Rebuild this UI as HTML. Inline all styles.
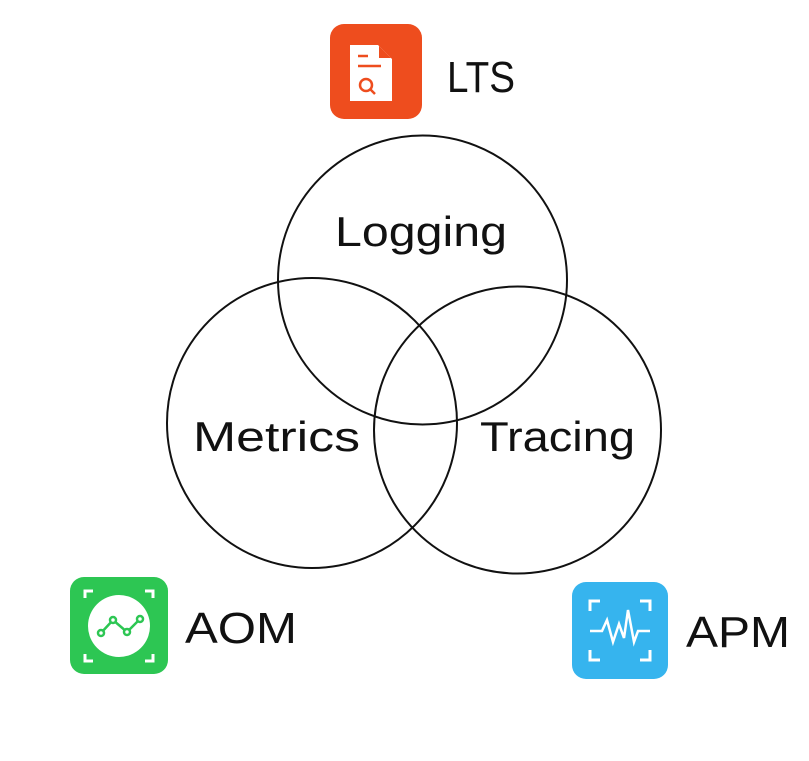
<!DOCTYPE html>
<html><head><meta charset="utf-8"><style>html,body{margin:0;padding:0;background:#fff}svg{display:block}</style></head>
<body>
<svg width="809" height="761" viewBox="0 0 809 761" xmlns="http://www.w3.org/2000/svg" font-family="Liberation Sans, sans-serif">
<rect width="809" height="761" fill="#fff"/>
<g fill="none" stroke="#111" stroke-width="2">
<circle cx="422.5" cy="280" r="144.5"/>
<circle cx="312" cy="423" r="145"/>
<circle cx="517.5" cy="430" r="143.5"/>
</g>
<g font-size="42" fill="#111">
<text x="335" y="246" textLength="172" lengthAdjust="spacingAndGlyphs">Logging</text>
<text x="193" y="451" textLength="167" lengthAdjust="spacingAndGlyphs">Metrics</text>
<text x="480" y="451" textLength="155" lengthAdjust="spacingAndGlyphs">Tracing</text>
<text x="447" y="92" textLength="68" lengthAdjust="spacingAndGlyphs" font-size="44">LTS</text>
<text x="185" y="643" textLength="112" lengthAdjust="spacingAndGlyphs" font-size="44">AOM</text>
<text x="686" y="647" textLength="104" lengthAdjust="spacingAndGlyphs" font-size="44">APM</text>
</g>
<!-- LTS icon -->
<rect x="330" y="24" width="92" height="95" rx="14" fill="#ee4d1e"/>
<path d="M350 45 h28 l14 14 v42 h-42 z" fill="#fff"/>
<path d="M379 46 l12 12 h-12 z" fill="#ee4d1e"/>
<g stroke="#ee4d1e" stroke-width="2.5" fill="none">
<line x1="358" y1="56" x2="368" y2="56"/>
<line x1="358" y1="66" x2="381" y2="66"/>
<circle cx="366" cy="85" r="6"/>
<line x1="370" y1="89" x2="375" y2="94"/>
</g>
<!-- AOM icon -->
<rect x="70" y="577" width="98" height="97" rx="14" fill="#2dc653"/>
<circle cx="119" cy="626" r="31" fill="#fff"/>
<g stroke="#fff" stroke-width="3" fill="none">
<path d="M85 598 v-7 h8 M145 591 h8 v7 M85 654 v7 h8 M145 661 h8 v-7"/>
</g>
<g stroke="#2dc653" stroke-width="2.5" fill="#fff">
<polyline points="101,633 113,620 127,632 140,619" fill="none"/>
<circle cx="101" cy="633" r="3"/><circle cx="113" cy="620" r="3"/><circle cx="127" cy="632" r="3"/><circle cx="140" cy="619" r="3"/>
</g>
<!-- APM icon -->
<rect x="572" y="582" width="96" height="97" rx="14" fill="#36b4ee"/>
<g stroke="#fff" stroke-width="3" fill="none">
<path d="M590 611 v-10 h10 M640 601 h10 v10 M590 650 v10 h10 M640 660 h10 v-10"/>
<polyline points="590,631 602,631 607,620 613,642 619,624 624,638 628,610 634,642 638,631 650,631" stroke-width="2.5"/>
</g>
</svg>
</body></html>
